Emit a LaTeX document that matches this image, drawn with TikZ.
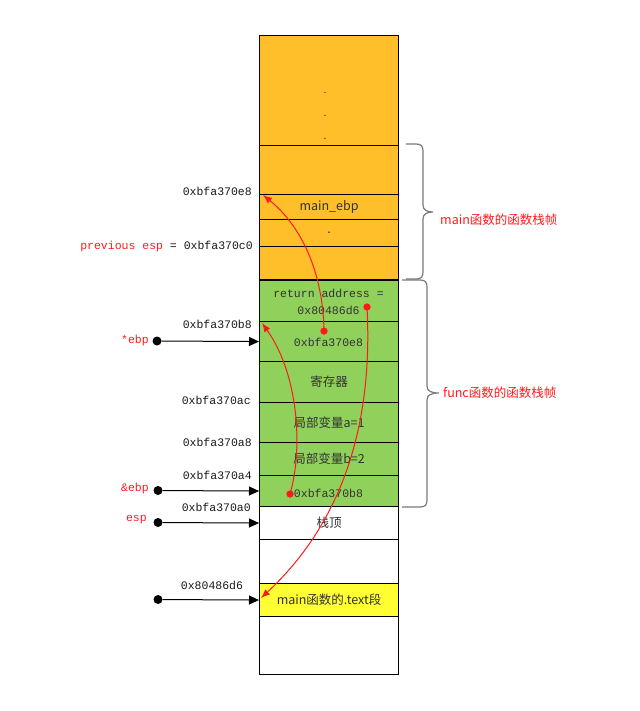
\documentclass[tikz,border=0pt]{standalone}
\usepackage{fontspec}
\setmainfont{Noto Sans CJK SC}
\newfontfamily\mono{Liberation Mono}
\usetikzlibrary{arrows.meta}
\definecolor{orangec}{HTML}{FFBF2B}
\definecolor{greenc}{HTML}{8FD15A}
\definecolor{yellowc}{HTML}{FFFF33}
\definecolor{redc}{HTML}{FF1A1A}
\definecolor{txt}{HTML}{333333}
\definecolor{bracec}{HTML}{7A7A7A}
\begin{document}
\begin{tikzpicture}[x=1pt,y=-1pt,
 cell/.style={draw=black, line width=1.1pt, minimum width=139pt, inner sep=0pt, anchor=north west, text=txt, font=\fontsize{12.5}{15}\selectfont},
 mtext/.style={font=\mono\fontsize{11.5}{17}\selectfont, text=txt, align=center},
 addr/.style={font=\mono\fontsize{11.5}{14}\selectfont, text=black!90, anchor=east, inner sep=0pt},
 rlab/.style={font=\mono\fontsize{11.5}{14}\selectfont, text=redc, anchor=east, inner sep=0pt},
 bdot/.style={circle, fill=black, inner sep=0pt, minimum size=9pt},
 rdot/.style={circle, fill=redc, inner sep=0pt, minimum size=7pt},
 barrow/.style={-{Triangle[length=10pt,width=9pt]}, line width=1pt},
 rarrow/.style={-{Latex[length=9pt,width=7pt]}, draw=redc, line width=1pt},
 bracepath/.style={draw=bracec, line width=1.2pt},
 flab/.style={font=\fontsize{12.5}{15}\selectfont, text=redc, anchor=west, inner sep=0pt}]
\useasboundingbox (0,0) rectangle (639,711);

% stack cells
\node[cell, fill=orangec, minimum height=110pt] (c0) at (259,35) {};
\node[cell, fill=orangec, minimum height=49pt] (c1) at (259,145) {};
\node[cell, fill=orangec, minimum height=25pt] (c2) at (259,194) {main\_ebp};
\node[cell, fill=orangec, minimum height=27pt] (c3) at (259,219) {.};
\node[cell, fill=orangec, minimum height=34pt] (c4) at (259,246) {};
\node[cell, fill=greenc, minimum height=41pt] (c5) at (259,280) {};
\node[cell, fill=greenc, minimum height=40pt] (c6) at (259,321) {};
\node[cell, fill=greenc, minimum height=41pt] (c7) at (259,361) {寄存器};
\node[cell, fill=greenc, minimum height=40pt] (c8) at (259,402) {局部变量a=1};
\node[cell, fill=greenc, minimum height=33pt] (c9) at (259,442) {局部变量b=2};
\node[cell, fill=greenc, minimum height=31pt] (c10) at (259,475) {};
\node[cell, fill=white, minimum height=33pt] (c11) at (259,506) {栈顶};
\node[cell, fill=white, minimum height=44pt] (c12) at (259,539) {};
\node[cell, fill=yellowc, minimum height=33pt] (c13) at (259,583) {main函数的.text段};
\node[cell, fill=white, minimum height=58pt] (c14) at (259,616) {};
\draw[line width=2pt] (c5.north west) -- (c5.north east);

% texts inside cells
\node[mtext] (ret) at (328.5,302) {return address =\\0x80486d6};
\node[mtext] (v6) at (328.5,342) {0xbfa370e8};
\node[mtext] (v10) at (328.5,493) {0xbfa370b8};
\node[text=txt, inner sep=0pt] (dA) at (325,93) {.};
\node[text=txt, inner sep=0pt] (dB) at (325,116) {.};
\node[text=txt, inner sep=0pt] (dC) at (325,139) {.};

% address labels
\node[addr] (a1) at (252,191) {0xbfa370e8};
\node[addr] (a2) at (253,247) {{\color{redc}previous esp} = 0xbfa370c0};
\node[addr] (a3) at (252,324) {0xbfa370b8};
\node[addr] (a4) at (251,400) {0xbfa370ac};
\node[addr] (a5) at (252,442) {0xbfa370a8};
\node[addr] (a6) at (252,475) {0xbfa370a4};
\node[addr] (a7) at (251,507) {0xbfa370a0};
\node[addr, anchor=center] (a8) at (212,585) {0x80486d6};
\node[rlab] (l1) at (149,341) {*ebp};
\node[rlab] (l2) at (149,489) {\&ebp};
\node[rlab] (l3) at (147,520) {esp};

% black pointers
\node[bdot] (d1) at (157,341) {};
\node[bdot] (d2) at (158,490.5) {};
\node[bdot] (d3) at (158,522.5) {};
\node[bdot] (d4) at (158,599.5) {};
\draw[barrow] (d1) -- (c6.west);
\draw[barrow] (d2) -- (c10.west);
\draw[barrow] (d3) -- (c11.west);
\draw[barrow] (d4) -- (c13.west);

% red curves
\coordinate (t1) at (263,195);
\coordinate (t2) at (262,323);
\coordinate (t3) at (261,598);
\node[rdot] (r1) at (324,331) {};
\node[rdot] (r2) at (290,494) {};
\node[rdot] (r3) at (367,307) {};
\draw[rarrow] (r1.center) .. controls (323,270) and (300,225) .. (t1);
\draw[rarrow] (r2.center) .. controls (303,450) and (299,375) .. (t2);
\draw[rarrow] (r3.center) .. controls (373,420) and (345,520) .. (t3);
\node[rdot] at (r1) {};
\node[rdot] at (r2) {};
\node[rdot] at (r3) {};

% braces
\draw[bracepath] (406,144) -- (416,144) .. controls (421,144) and (423,146) .. (423,151) -- (423,205)
  .. controls (423,210) and (427,212) .. (433,212) .. controls (427,212) and (423,214) .. (423,219)
  -- (423,272) .. controls (423,277) and (421,279) .. (416,279) -- (406,279);
\draw[bracepath] (402,280) -- (420,280) .. controls (425,280) and (427,282) .. (427,287) -- (427,386)
  .. controls (427,391) and (431,393) .. (439,393) .. controls (431,393) and (427,395) .. (427,400)
  -- (427,500) .. controls (427,505) and (425,507) .. (420,507) -- (402,507);
\node[flab] (f1) at (440,220) {main函数的函数栈帧};
\node[flab] (f2) at (443,393) {func函数的函数栈帧};
\end{tikzpicture}
\end{document}
